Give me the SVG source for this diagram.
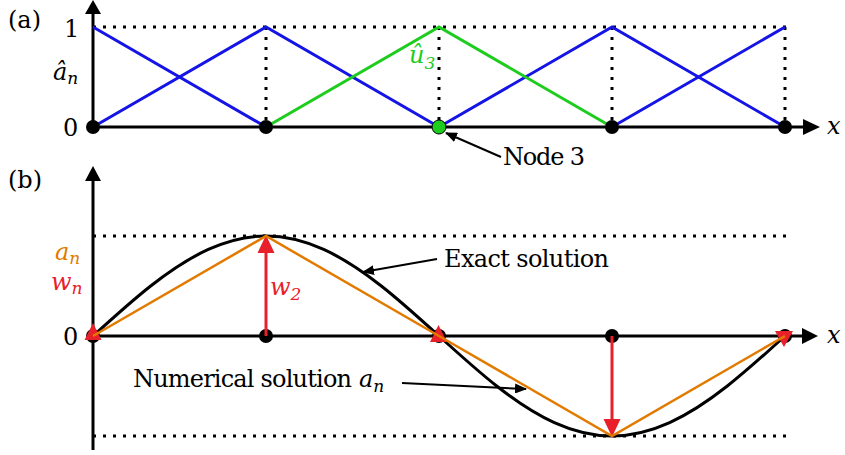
<svg xmlns="http://www.w3.org/2000/svg" width="845" height="455" viewBox="0 0 845 455">
<defs>
<marker id="ann" viewBox="0 0 12 10" refX="11" refY="5" markerWidth="12" markerHeight="10" markerUnits="userSpaceOnUse" orient="auto">
<path d="M0,0 L12,5 L0,10 Z" fill="#000"/>
</marker>
</defs>
<style>
.ax{stroke:#000;stroke-width:3;fill:none}
.dot{stroke:#000;stroke-width:3;stroke-dasharray:3 7;fill:none}
.blue{stroke:#1414E6;stroke-width:3;fill:none}
.green{stroke:#1ECC1E;stroke-width:3;fill:none}
.orange{stroke:#E27A00;stroke-width:2.5;fill:none}
.exact{stroke:#000;stroke-width:3;fill:none}
.red{stroke:#E8202A;stroke-width:3;fill:none}
.redh{fill:#E8202A}
.head{fill:#000}
.node{fill:#000}
.ann{stroke:#000;stroke-width:2;fill:none;marker-end:url(#ann)}
.t{font-size:24px;fill:#000}
.m{font-style:italic}
.sub{font-size:17px;font-style:italic}
</style>

<!-- Panel (a) -->
<g id="panel-a-axes">
<line class="ax" x1="93" y1="127" x2="806" y2="127"/>
<line class="ax" x1="93" y1="127" x2="93" y2="12"/>
<path class="head" d="M85,14 L93,0 L101,14 Z"/>
<path class="head" d="M803,119 L820,127 L803,135 Z"/>
</g>
<g id="panel-a-grid">
<line class="dot" x1="93" y1="27" x2="788" y2="27"/>
<line class="dot" x1="266" y1="27" x2="266" y2="122"/>
<line class="dot" x1="439" y1="27" x2="439" y2="122"/>
<line class="dot" x1="612" y1="27" x2="612" y2="122"/>
<line class="dot" x1="785" y1="27" x2="785" y2="122"/>
</g>
<g id="hat-functions">
<polyline class="blue" points="93,27 266,127"/>
<polyline class="blue" points="93,127 266,27 439,127"/>
<polyline class="blue" points="439,127 612,27 785,127"/>
<polyline class="blue" points="612,127 785,27"/>
<polyline class="green" points="266,127 439,27 612,127"/>
</g>
<g id="a-node0"><circle class="node" cx="93" cy="127" r="7"/></g>
<g id="a-node1"><circle class="node" cx="266" cy="127" r="7"/></g>
<g id="a-node2"><circle cx="439" cy="127" r="7" fill="#1ECC1E" stroke="#000" stroke-width="1"/></g>
<g id="a-node3"><circle class="node" cx="612" cy="127" r="7"/></g>
<g id="a-node4"><circle class="node" cx="785" cy="127" r="7"/></g>
<g id="panel-a-labels" font-family="DejaVu Serif, serif">
<text class="t" x="8" y="28">(a)</text>
<text class="t" x="64" y="37">1</text>
<text class="t" x="63" y="136">0</text>
<text class="t m" x="53" y="80">â<tspan class="sub" dy="4">n</tspan></text>
<text class="t m" x="409" y="63" style="fill:#1ECC1E">û<tspan class="sub" dy="6">3</tspan></text>
<text class="t m" x="827" y="134">x</text>
<text class="t" x="503" y="165" textLength="82">Node 3</text>
</g>

<!-- Panel (b) -->
<g id="panel-b-axes">
<line class="ax" x1="93" y1="450" x2="93" y2="178"/>
<line class="ax" x1="93" y1="336" x2="804" y2="336"/>
<path class="head" d="M85,181 L93,166 L101,181 Z"/>
<path class="head" d="M802,328 L818,336 L802,344 Z"/>
</g>
<g id="panel-b-grid">
<line class="dot" x1="93" y1="236" x2="788" y2="236"/>
<line class="dot" x1="93" y1="436" x2="788" y2="436"/>
</g>
<g id="exact-solution">
<path class="exact" d="M93,336 C112.22,318.55 131.44,301.11 150.67,286 C169.89,270.89 189.11,258.13 208.33,249.4 C227.56,240.67 246.78,236 266,236 C285.22,236 304.44,240.67 323.67,249.4 C342.89,258.13 362.11,270.89 381.33,286 C400.56,301.11 419.78,318.55 439,336 C458.22,353.45 477.44,370.89 496.67,386 C515.89,401.11 535.11,413.87 554.33,422.6 C573.56,431.33 592.78,436 612,436 C631.22,436 650.44,431.33 669.67,422.6 C688.89,413.87 708.11,401.11 727.33,386 C746.56,370.89 765.78,353.45 785,336"/>
</g>
<g id="b-node0"><circle class="node" cx="93" cy="336" r="7"/></g>
<g id="b-node1"><circle class="node" cx="266" cy="336" r="7"/></g>
<g id="b-node2"><circle class="node" cx="439" cy="336" r="7"/></g>
<g id="b-node3"><circle class="node" cx="612" cy="336" r="7"/></g>
<g id="b-node4"><circle class="node" cx="785" cy="336" r="7"/></g>
<g id="weights">
<line class="red" x1="266" y1="336" x2="266" y2="250"/>
<path class="redh" d="M257.5,253 L266,235 L274.5,253 Z"/>
<line class="red" x1="612" y1="336" x2="612" y2="422"/>
<path class="redh" d="M603.5,419 L612,437 L620.5,419 Z"/>
<path class="redh" d="M84.5,340 L93,323 L101.5,340 Z"/>
<path class="redh" d="M430,342 L438.5,325 L447,342 Z"/>
<path class="redh" d="M775,331 L793,331 L784,347 Z"/>
</g>
<g id="numerical-solution">
<polyline class="orange" points="93,336 266,236 439,336 612,436 785,336"/>
</g>
<g id="connectors">
<line class="ann" x1="501" y1="157" x2="446" y2="133"/>
<line class="ann" x1="437" y1="259" x2="363" y2="272"/>
<line class="ann" x1="402" y1="383" x2="526" y2="389"/>
</g>
<g id="panel-b-labels" font-family="DejaVu Serif, serif">
<text class="t" x="8" y="188">(b)</text>
<text class="t" x="63" y="345">0</text>
<text class="t m" x="55" y="260" style="fill:#E27A00">a<tspan class="sub" dy="4" style="fill:#E27A00">n</tspan></text>
<text class="t m" x="51" y="290" style="fill:#E8202A">w<tspan class="sub" dy="4" style="fill:#E8202A">n</tspan></text>
<text class="t m" x="270" y="295" style="fill:#E8202A">w<tspan class="sub" dy="5" style="fill:#E8202A">2</tspan></text>
<text class="t m" x="827" y="343">x</text>
<text class="t" x="444" y="267" textLength="165">Exact solution</text>
<text class="t" x="133" y="387" textLength="219">Numerical solution</text>
<text class="t m" x="359" y="387">a<tspan class="sub" dy="5">n</tspan></text>
</g>
</svg>
